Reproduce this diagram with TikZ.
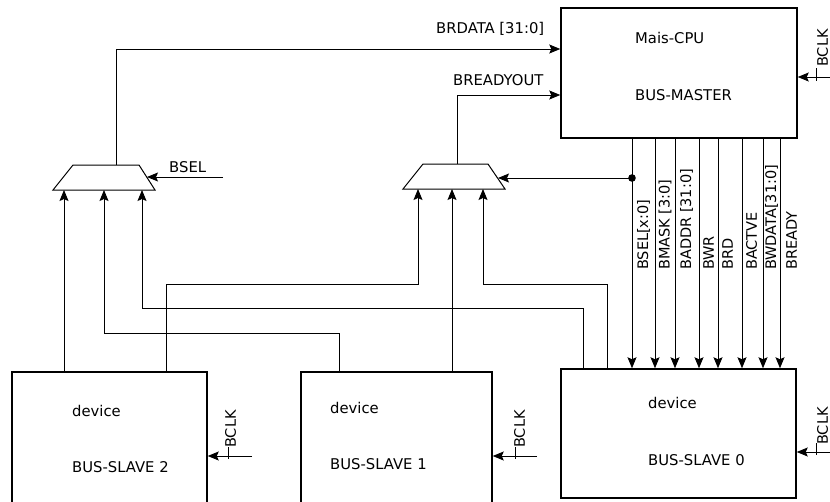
\documentclass[tikz,border=0pt]{standalone}
\usepackage{fontspec}
\setmainfont{DejaVu Sans}
\usetikzlibrary{arrows.meta}
\begin{document}
\begin{tikzpicture}[x=1pt,y=-1pt,
  box/.style={draw,line width=1.5pt,inner sep=0pt},
  lbl/.style={inner sep=0pt,font=\fontsize{14.8}{17}\selectfont},
  vlbl/.style={lbl,font=\fontsize{14.5}{17}\selectfont,rotate=90,anchor=north west},
  wire/.style={line width=0.9pt},
  arr/.style={wire,-{Stealth[length=11pt,width=9pt,inset=2pt]}},
  muxs/.style={line width=1pt}]
\useasboundingbox (0,0) rectangle (830,501);
% boxes
\node[box,minimum width=236pt,minimum height=130pt] (master) at (679,73) {};
\node[box,minimum width=195pt,minimum height=148pt] (s2) at (109.5,446) {};
\node[box,minimum width=191pt,minimum height=148pt] (s1) at (396.5,446) {};
\node[box,minimum width=235pt,minimum height=129pt] (s0) at (678.5,433.5) {};
% box texts
\node[lbl,anchor=base west] (t1) at (635,43) {Mais-CPU};
\node[lbl,anchor=base west] (t2) at (635,100) {BUS-MASTER};
\node[lbl,anchor=base west] (t3) at (72,416) {device};
\node[lbl,anchor=base west] (t4) at (72,472) {BUS-SLAVE 2};
\node[lbl,anchor=base west] (t5) at (330,413) {device};
\node[lbl,anchor=base west] (t6) at (330,469) {BUS-SLAVE 1};
\node[lbl,anchor=base west] (t7) at (648,408) {device};
\node[lbl,anchor=base west] (t8) at (648,465) {BUS-SLAVE 0};
% muxes
\draw[muxs] (73,165) -- (139,165) -- (155,190) -- (53,190) -- cycle;
\draw[muxs] (423,164) -- (488,164) -- (505,189) -- (403,189) -- cycle;
\coordinate (m1out) at (116,165);
\coordinate (m1sel) at (147,177);
\coordinate (m1a) at (64,190);
\coordinate (m1b) at (104,190);
\coordinate (m1c) at (142,190);
\coordinate (m2out) at (457,164);
\coordinate (m2sel) at (498,178);
\coordinate (m2a) at (418,189);
\coordinate (m2b) at (452,189);
\coordinate (m2c) at (483,189);
% outputs to master
\draw[arr] (m1out) |- (master.west |- 0,49);
\node[lbl,anchor=base west] (brdata) at (436,33) {BRDATA [31:0]};
\draw[arr] (m2out) |- (master.west |- 0,95);
\node[lbl,anchor=base west] (bready) at (453,85) {BREADYOUT};
% selects
\coordinate (bselin) at (223,177);
\draw[arr] (bselin) -- (m1sel);
\node[lbl,anchor=base west] (bsel) at (169,172) {BSEL};
\coordinate (dot) at (632,178);
\fill (dot) circle (3.8pt);
\draw[arr] (dot) -- (m2sel);
% bus lines
\foreach \x/\t/\lx in {632/{BSEL[x:0]}/637, 655/{BMASK [3:0]}/658.5, 675/{BADDR [31:0]}/680, 699/{BWR}/703, 718/{BRD}/722, 742/{BACTVE}/746, 763/{BWDATA[31:0]}/765, 780/{BREADY}/786}{
  \draw[arr] (master.south -| \x,0) -- (s0.north -| \x,0);
  \node[vlbl] at (\lx,270) {\t};
}
% slave to mux connections
\draw[arr] (s2.north -| m1a) -- (m1a);
\draw[arr] (s2.north -| 166,0) -- (166,284) -| (m2a);
\draw[arr] (s1.north -| 339,0) -- (339,333) -| (m1b);
\draw[arr] (s1.north -| m2b) -- (m2b);
\draw[arr] (s0.north -| 583,0) -- (583,308) -| (m1c);
\draw[arr] (s0.north -| 607,0) -- (607,284) -| (m2c);
% clocks
\draw[arr] (830,77) -- (master.east |- 0,77);
\draw[wire] (816,68) -- (816,81);
\node[vlbl] (c0) at (817,67) {BCLK};
\draw[arr] (252,456) -- (s2.east |- 0,456);
\draw[wire] (228,447) -- (228,459);
\node[vlbl] (c1) at (225,448) {BCLK};
\draw[arr] (537,456) -- (s1.east |- 0,456);
\draw[wire] (515,447) -- (515,459);
\node[vlbl] (c2) at (514,448) {BCLK};
\draw[arr] (830,452) -- (s0.east |- 0,452);
\draw[wire] (816,443) -- (816,455);
\node[vlbl] (c3) at (817,445) {BCLK};
\end{tikzpicture}
\end{document}
